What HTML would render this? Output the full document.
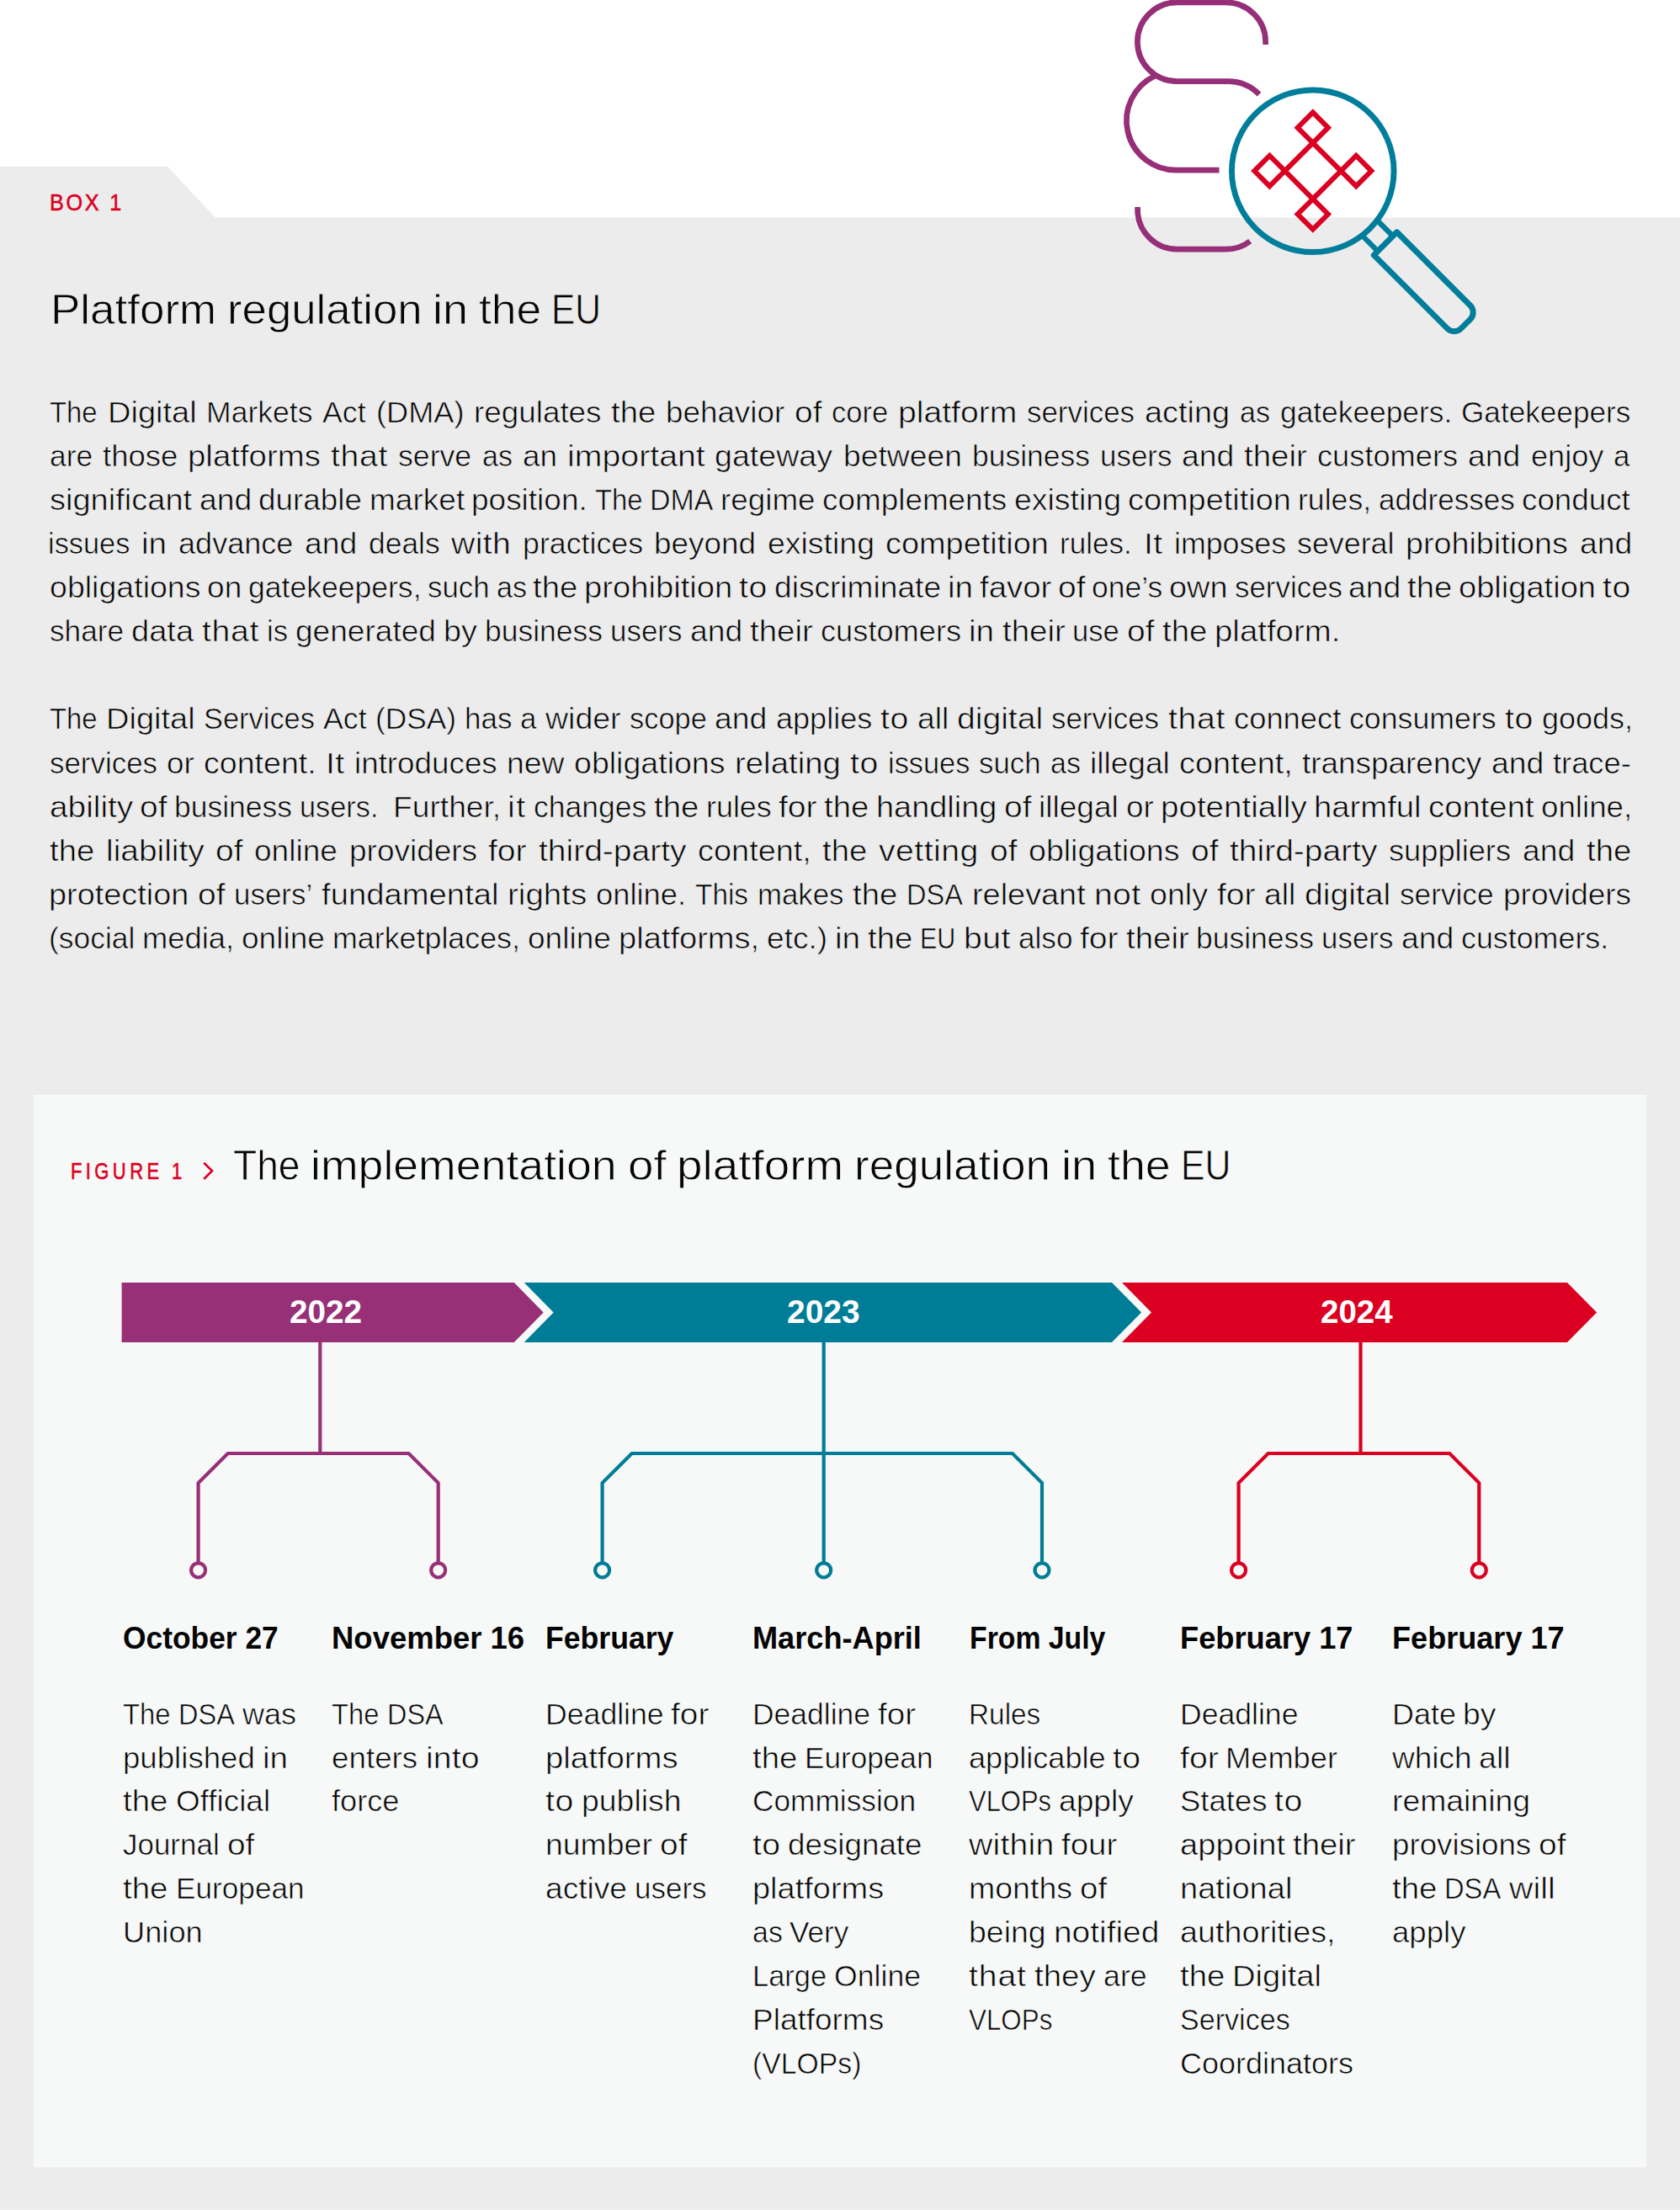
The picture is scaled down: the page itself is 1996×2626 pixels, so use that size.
<!DOCTYPE html>
<html lang="en">
<head>
<meta charset="utf-8">
<title>Platform regulation in the EU</title>
<style>
html,body{margin:0;padding:0;background:#ffffff;}
body{width:1996px;height:2626px;position:relative;overflow:hidden;font-family:"Liberation Sans",sans-serif;}
.bg{position:absolute;left:0;top:0;width:1996px;height:2626px;}
.t{position:absolute;white-space:pre;transform-origin:0 50%;margin:0;}
.pl{position:absolute;left:0;width:1996px;}
.w{position:absolute;top:0;white-space:pre;transform-origin:0 50%;}
</style>
</head>
<body>
<svg class="bg" width="1996" height="2626" viewBox="0 0 1996 2626">
  <!-- gray box with tab -->
  <path d="M0 198 H199.4 L255.7 258.6 H1996 V2626 H0 Z" fill="#ececec"/>
  <!-- figure panel -->
  <rect x="40" y="1301" width="1915.9" height="1274.4" fill="#f7f9f8"/>
  <rect x="0" y="2625.4" width="1996" height="0.6" fill="#f6f6f6"/>

  <!-- icon: paragraph sign -->
  <g fill="none" stroke="#962f78" stroke-width="6.7" stroke-linecap="butt">
    <path d="M1503.6 53.1 V49.7 A46.9 46.9 0 0 0 1456.7 2.8 H1398.3 A46.9 46.9 0 0 0 1398.3 96.6 H1459 A52 52 0 0 1 1496 112.1"/>
    <path d="M1448.5 202.1 H1398.5 A58.8 58.8 0 0 1 1372 90.2"/>
    <path d="M1351.6 246 V249.2 A46.9 46.9 0 0 0 1398.5 296.1 H1457 A46.9 46.9 0 0 0 1485.2 286.6"/>
  </g>
  <!-- icon: magnifier -->
  <g transform="translate(1559.75 203.25) rotate(45)" fill="none" stroke="#007d9b" stroke-width="6.9" stroke-linejoin="round">
    <circle r="96.3"/>
    <path d="M96 -12.7 H121.9 M96 12.7 H121.9" stroke-width="6.3"/>
    <path d="M121.9 -19.3 H245.3 A11.5 11.5 0 0 1 256.8 -7.8 V7.8 A11.5 11.5 0 0 1 245.3 19.3 H121.9 Z"/>
  </g>
  <!-- icon: red lattice -->
  <g transform="translate(1559.8 203.1)" fill="none" stroke="#db0021" stroke-width="6" stroke-linejoin="miter">
    <path d="M0 -33.3 L33.3 0 L0 33.3 L-33.3 0 Z"/>
    <path d="M0 -33.3 L18.1 -51.4 L0 -69.5 L-18.1 -51.4 Z"/>
    <path d="M0 33.3 L18.1 51.4 L0 69.5 L-18.1 51.4 Z"/>
    <path d="M33.3 0 L51.4 -18.1 L69.5 0 L51.4 18.1 Z"/>
    <path d="M-33.3 0 L-51.4 -18.1 L-69.5 0 L-51.4 18.1 Z"/>
  </g>

  <!-- figure chevron -->
  <path d="M242.2 1381.6 L252 1391.3 L242.2 1401" fill="none" stroke="#db0021" stroke-width="2.7"/>

  <!-- timeline bars -->
  <path d="M144.6 1524 H610.8 L645.7 1559.45 L610.8 1594.9 H144.6 Z" fill="#973077"/>
  <path d="M622.7 1524 H1321 L1356.1 1559.45 L1321 1594.9 H622.7 L657.6 1559.45 Z" fill="#007d96"/>
  <path d="M1333 1524 H1862 L1897.1 1559.45 L1862 1594.9 H1333 L1368 1559.45 Z" fill="#db0021"/>

  <!-- connectors -->
  <g fill="none" stroke-width="4.2" stroke-linejoin="miter">
    <g stroke="#973077">
      <path d="M380.3 1594 V1727"/>
      <path d="M235.6 1857 V1762.1 L270.7 1727 H485.6 L520.7 1762.1 V1857"/>
      <circle cx="235.6" cy="1865.8" r="8.5"/><circle cx="520.7" cy="1865.8" r="8.5"/>
    </g>
    <g stroke="#007d96">
      <path d="M978.7 1594 V1857"/>
      <path d="M715.6 1857 V1762.1 L750.7 1727 H1202.9 L1238 1762.1 V1857"/>
      <circle cx="715.6" cy="1865.8" r="8.5"/><circle cx="978.7" cy="1865.8" r="8.5"/><circle cx="1238" cy="1865.8" r="8.5"/>
    </g>
    <g stroke="#db0021">
      <path d="M1616.5 1594 V1727"/>
      <path d="M1471.6 1857 V1762.1 L1506.7 1727 H1722.2 L1757.3 1762.1 V1857"/>
      <circle cx="1471.6" cy="1865.8" r="8.5"/><circle cx="1757.3" cy="1865.8" r="8.5"/>
    </g>
  </g>
</svg>
<header>
<div class="t" style="left:58.9px;top:223.0px;font-size:28px;line-height:36px;color:#db0021;letter-spacing:3.03px;transform:scaleX(0.9);-webkit-text-stroke:0.6px #db0021;">BOX 1</div>
<div class="pl" style="top:334.5px;font-size:50.5px;line-height:66px;height:66px;color:#050505;-webkit-text-stroke:0.81px #ececec;"><span class="w" style="left:59.7px;transform:scaleX(1.0485)">Platform</span> <span class="w" style="left:269.5px;transform:scaleX(1.0447)">regulation</span> <span class="w" style="left:513.8px;transform:scaleX(1.0690)">in</span> <span class="w" style="left:568.5px;transform:scaleX(1.0579)">the</span> <span class="w" style="left:655.4px;transform:scaleX(0.8414)">EU</span></div>
</header>
<section class="para">
<div class="pl" style="top:466.7px;font-size:35px;line-height:46px;height:46px;color:#050505;-webkit-text-stroke:0.61px #ececec;"><span class="w" style="left:59.4px;transform:scaleX(0.9391)">The</span> <span class="w" style="left:127.7px;transform:scaleX(1.0869)">Digital</span> <span class="w" style="left:245.1px;transform:scaleX(1.0163)">Markets</span> <span class="w" style="left:383.3px;transform:scaleX(1.0222)">Act</span> <span class="w" style="left:446.8px;transform:scaleX(1.0340)">(DMA)</span> <span class="w" style="left:563.0px;transform:scaleX(1.0523)">regulates</span> <span class="w" style="left:726.2px;transform:scaleX(1.0942)">the</span> <span class="w" style="left:791.2px;transform:scaleX(1.0513)">behavior</span> <span class="w" style="left:944.1px;transform:scaleX(1.1141)">of</span> <span class="w" style="left:988.3px;transform:scaleX(0.9870)">core</span> <span class="w" style="left:1067.2px;transform:scaleX(1.1177)">platform</span> <span class="w" style="left:1220.2px;transform:scaleX(0.9974)">services</span> <span class="w" style="left:1360.0px;transform:scaleX(1.0823)">acting</span> <span class="w" style="left:1472.8px;transform:scaleX(0.9726)">as</span> <span class="w" style="left:1520.5px;transform:scaleX(1.0094)">gatekeepers.</span> <span class="w" style="left:1736.4px;transform:scaleX(1.0043)">Gatekeepers</span></div>
<div class="pl" style="top:518.8px;font-size:35px;line-height:46px;height:46px;color:#050505;-webkit-text-stroke:0.61px #ececec;"><span class="w" style="left:58.5px;transform:scaleX(1.0111)">are</span> <span class="w" style="left:121.7px;transform:scaleX(1.0442)">those</span> <span class="w" style="left:223.2px;transform:scaleX(1.0967)">platforms</span> <span class="w" style="left:393.1px;letter-spacing:0.61px;transform:scaleX(1.1200)">that</span> <span class="w" style="left:473.2px;transform:scaleX(1.0186)">serve</span> <span class="w" style="left:572.5px;transform:scaleX(0.9726)">as</span> <span class="w" style="left:620.5px;transform:scaleX(1.0545)">an</span> <span class="w" style="left:673.6px;letter-spacing:0.04px;transform:scaleX(1.1200)">important</span> <span class="w" style="left:849.4px;transform:scaleX(1.0747)">gateway</span> <span class="w" style="left:1001.5px;transform:scaleX(1.0649)">between</span> <span class="w" style="left:1154.5px;transform:scaleX(1.0138)">business</span> <span class="w" style="left:1306.6px;transform:scaleX(0.9978)">users</span> <span class="w" style="left:1404.0px;transform:scaleX(1.0656)">and</span> <span class="w" style="left:1478.3px;transform:scaleX(1.0989)">their</span> <span class="w" style="left:1565.2px;transform:scaleX(1.0352)">customers</span> <span class="w" style="left:1744.3px;transform:scaleX(1.0656)">and</span> <span class="w" style="left:1818.6px;transform:scaleX(1.0328)">enjoy</span> <span class="w" style="left:1917.1px;transform:scaleX(0.9977)">a</span></div>
<div class="pl" style="top:570.9px;font-size:35px;line-height:46px;height:46px;color:#050505;-webkit-text-stroke:0.61px #ececec;"><span class="w" style="left:59.1px;transform:scaleX(1.0865)">significant</span> <span class="w" style="left:236.7px;transform:scaleX(1.0656)">and</span> <span class="w" style="left:307.4px;transform:scaleX(1.0528)">durable</span> <span class="w" style="left:438.8px;transform:scaleX(1.0581)">market</span> <span class="w" style="left:560.4px;transform:scaleX(1.0565)">position.</span> <span class="w" style="left:706.7px;transform:scaleX(0.9391)">The</span> <span class="w" style="left:771.8px;transform:scaleX(0.9692)">DMA</span> <span class="w" style="left:855.6px;transform:scaleX(1.0522)">regime</span> <span class="w" style="left:976.7px;transform:scaleX(1.0537)">complements</span> <span class="w" style="left:1204.5px;transform:scaleX(1.0700)">existing</span> <span class="w" style="left:1339.9px;transform:scaleX(1.0830)">competition</span> <span class="w" style="left:1542.3px;transform:scaleX(1.0174)">rules,</span> <span class="w" style="left:1637.8px;transform:scaleX(1.0015)">addresses</span> <span class="w" style="left:1808.0px;transform:scaleX(1.0510)">conduct</span></div>
<div class="pl" style="top:623.0px;font-size:35px;line-height:46px;height:46px;color:#050505;-webkit-text-stroke:0.61px #ececec;"><span class="w" style="left:57.4px;transform:scaleX(0.9810)">issues</span> <span class="w" style="left:168.3px;transform:scaleX(1.1057)">in</span> <span class="w" style="left:211.9px;transform:scaleX(1.0308)">advance</span> <span class="w" style="left:361.8px;transform:scaleX(1.0656)">and</span> <span class="w" style="left:437.5px;transform:scaleX(1.0117)">deals</span> <span class="w" style="left:535.7px;letter-spacing:0.35px;transform:scaleX(1.1200)">with</span> <span class="w" style="left:620.5px;transform:scaleX(1.0217)">practices</span> <span class="w" style="left:777.1px;transform:scaleX(1.0530)">beyond</span> <span class="w" style="left:911.5px;transform:scaleX(1.0700)">existing</span> <span class="w" style="left:1052.0px;transform:scaleX(1.0830)">competition</span> <span class="w" style="left:1259.3px;transform:scaleX(1.0028)">rules.</span> <span class="w" style="left:1358.6px;letter-spacing:0.40px;transform:scaleX(1.1200)">It</span> <span class="w" style="left:1394.8px;transform:scaleX(1.0212)">imposes</span> <span class="w" style="left:1541.4px;transform:scaleX(1.0236)">several</span> <span class="w" style="left:1670.4px;transform:scaleX(1.0773)">prohibitions</span> <span class="w" style="left:1876.7px;transform:scaleX(1.0656)">and</span></div>
<div class="pl" style="top:675.1px;font-size:35px;line-height:46px;height:46px;color:#050505;-webkit-text-stroke:0.61px #ececec;"><span class="w" style="left:58.5px;transform:scaleX(1.0727)">obligations</span> <span class="w" style="left:245.8px;transform:scaleX(1.0600)">on</span> <span class="w" style="left:294.9px;transform:scaleX(1.0156)">gatekeepers,</span> <span class="w" style="left:508.2px;transform:scaleX(0.9938)">such</span> <span class="w" style="left:589.5px;transform:scaleX(0.9726)">as</span> <span class="w" style="left:633.3px;transform:scaleX(1.0942)">the</span> <span class="w" style="left:694.3px;transform:scaleX(1.0916)">prohibition</span> <span class="w" style="left:878.4px;letter-spacing:0.47px;transform:scaleX(1.1200)">to</span> <span class="w" style="left:920.0px;transform:scaleX(1.0606)">discriminate</span> <span class="w" style="left:1125.8px;transform:scaleX(1.1057)">in</span> <span class="w" style="left:1163.8px;transform:scaleX(1.0966)">favor</span> <span class="w" style="left:1256.9px;transform:scaleX(1.1141)">of</span> <span class="w" style="left:1297.2px;transform:scaleX(1.0140)">one’s</span> <span class="w" style="left:1389.3px;transform:scaleX(1.0817)">own</span> <span class="w" style="left:1466.5px;transform:scaleX(0.9974)">services</span> <span class="w" style="left:1602.4px;transform:scaleX(1.0656)">and</span> <span class="w" style="left:1672.4px;transform:scaleX(1.0942)">the</span> <span class="w" style="left:1733.4px;transform:scaleX(1.0877)">obligation</span> <span class="w" style="left:1904.2px;letter-spacing:0.47px;transform:scaleX(1.1200)">to</span></div>
<div class="pl" style="top:727.2px;font-size:35px;line-height:46px;height:46px;color:#050505;-webkit-text-stroke:0.61px #ececec;"><span class="w" style="left:59.1px;transform:scaleX(1.0071)">share</span> <span class="w" style="left:156.4px;transform:scaleX(1.0882)">data</span> <span class="w" style="left:239.6px;letter-spacing:0.61px;transform:scaleX(1.1200)">that</span> <span class="w" style="left:316.9px;transform:scaleX(0.9899)">is</span> <span class="w" style="left:351.0px;transform:scaleX(1.0589)">generated</span> <span class="w" style="left:527.1px;transform:scaleX(1.0777)">by</span> <span class="w" style="left:576.0px;transform:scaleX(1.0138)">business</span> <span class="w" style="left:725.2px;transform:scaleX(0.9978)">users</span> <span class="w" style="left:819.7px;transform:scaleX(1.0656)">and</span> <span class="w" style="left:891.0px;transform:scaleX(1.0989)">their</span> <span class="w" style="left:975.0px;transform:scaleX(1.0352)">customers</span> <span class="w" style="left:1151.2px;transform:scaleX(1.1057)">in</span> <span class="w" style="left:1190.5px;transform:scaleX(1.0989)">their</span> <span class="w" style="left:1274.4px;transform:scaleX(0.9883)">use</span> <span class="w" style="left:1339.3px;transform:scaleX(1.1141)">of</span> <span class="w" style="left:1380.9px;transform:scaleX(1.0942)">the</span> <span class="w" style="left:1443.3px;transform:scaleX(1.0971)">platform.</span></div>
</section>
<section class="para">
<div class="pl" style="top:831.4px;font-size:35px;line-height:46px;height:46px;color:#050505;-webkit-text-stroke:0.61px #ececec;"><span class="w" style="left:59.4px;transform:scaleX(0.9391)">The</span> <span class="w" style="left:126.1px;transform:scaleX(1.0869)">Digital</span> <span class="w" style="left:241.9px;transform:scaleX(0.9831)">Services</span> <span class="w" style="left:383.9px;transform:scaleX(1.0222)">Act</span> <span class="w" style="left:445.7px;transform:scaleX(1.0081)">(DSA)</span> <span class="w" style="left:551.8px;transform:scaleX(1.0003)">has</span> <span class="w" style="left:618.3px;transform:scaleX(0.9977)">a</span> <span class="w" style="left:647.8px;transform:scaleX(1.0710)">wider</span> <span class="w" style="left:747.5px;transform:scaleX(0.9826)">scope</span> <span class="w" style="left:849.4px;transform:scaleX(1.0656)">and</span> <span class="w" style="left:921.7px;transform:scaleX(1.0300)">applies</span> <span class="w" style="left:1046.0px;letter-spacing:0.47px;transform:scaleX(1.1200)">to</span> <span class="w" style="left:1089.8px;transform:scaleX(1.0626)">all</span> <span class="w" style="left:1137.1px;transform:scaleX(1.1173)">digital</span> <span class="w" style="left:1249.4px;transform:scaleX(0.9974)">services</span> <span class="w" style="left:1387.5px;letter-spacing:0.61px;transform:scaleX(1.1200)">that</span> <span class="w" style="left:1465.7px;transform:scaleX(1.0385)">connect</span> <span class="w" style="left:1603.1px;transform:scaleX(1.0202)">consumers</span> <span class="w" style="left:1787.8px;letter-spacing:0.47px;transform:scaleX(1.1200)">to</span> <span class="w" style="left:1831.6px;transform:scaleX(1.0266)">goods,</span></div>
<div class="pl" style="top:883.5px;font-size:35px;line-height:46px;height:46px;color:#050505;-webkit-text-stroke:0.61px #ececec;"><span class="w" style="left:59.1px;transform:scaleX(0.9974)">services</span> <span class="w" style="left:198.4px;transform:scaleX(1.0517)">or</span> <span class="w" style="left:242.3px;transform:scaleX(1.0732)">content.</span> <span class="w" style="left:387.2px;letter-spacing:0.40px;transform:scaleX(1.1200)">It</span> <span class="w" style="left:421.1px;transform:scaleX(1.0512)">introduces</span> <span class="w" style="left:602.1px;transform:scaleX(1.0660)">new</span> <span class="w" style="left:681.8px;transform:scaleX(1.0727)">obligations</span> <span class="w" style="left:872.6px;transform:scaleX(1.0965)">relating</span> <span class="w" style="left:1009.7px;letter-spacing:0.47px;transform:scaleX(1.1200)">to</span> <span class="w" style="left:1054.6px;transform:scaleX(0.9810)">issues</span> <span class="w" style="left:1163.2px;transform:scaleX(0.9938)">such</span> <span class="w" style="left:1247.9px;transform:scaleX(0.9726)">as</span> <span class="w" style="left:1295.1px;transform:scaleX(1.0594)">illegal</span> <span class="w" style="left:1401.2px;transform:scaleX(1.0832)">content,</span> <span class="w" style="left:1547.3px;transform:scaleX(1.0542)">transparency</span> <span class="w" style="left:1771.8px;transform:scaleX(1.0656)">and</span> <span class="w" style="left:1845.3px;transform:scaleX(1.0367)">trace-</span></div>
<div class="pl" style="top:935.6px;font-size:35px;line-height:46px;height:46px;color:#050505;-webkit-text-stroke:0.61px #ececec;"><span class="w" style="left:58.5px;transform:scaleX(1.1090)">ability</span> <span class="w" style="left:166.3px;transform:scaleX(1.1141)">of</span> <span class="w" style="left:207.4px;transform:scaleX(1.0138)">business</span> <span class="w" style="left:356.0px;transform:scaleX(0.9806)">users.</span> <span class="w" style="left:466.6px;transform:scaleX(1.0627)">Further,</span> <span class="w" style="left:603.3px;letter-spacing:1.34px;transform:scaleX(1.1200)">it</span> <span class="w" style="left:634.4px;transform:scaleX(1.0137)">changes</span> <span class="w" style="left:777.1px;transform:scaleX(1.0942)">the</span> <span class="w" style="left:838.9px;transform:scaleX(1.0251)">rules</span> <span class="w" style="left:925.2px;transform:scaleX(1.1169)">for</span> <span class="w" style="left:979.4px;transform:scaleX(1.0942)">the</span> <span class="w" style="left:1041.2px;transform:scaleX(1.0830)">handling</span> <span class="w" style="left:1193.1px;transform:scaleX(1.1141)">of</span> <span class="w" style="left:1234.1px;transform:scaleX(1.0594)">illegal</span> <span class="w" style="left:1337.5px;transform:scaleX(1.0517)">or</span> <span class="w" style="left:1378.8px;transform:scaleX(1.1021)">potentially</span> <span class="w" style="left:1561.1px;transform:scaleX(1.0928)">harmful</span> <span class="w" style="left:1697.1px;transform:scaleX(1.0939)">content</span> <span class="w" style="left:1831.3px;transform:scaleX(1.0493)">online,</span></div>
<div class="pl" style="top:987.7px;font-size:35px;line-height:46px;height:46px;color:#050505;-webkit-text-stroke:0.61px #ececec;"><span class="w" style="left:59.2px;transform:scaleX(1.0942)">the</span> <span class="w" style="left:126.0px;transform:scaleX(1.1103)">liability</span> <span class="w" style="left:256.2px;transform:scaleX(1.1141)">of</span> <span class="w" style="left:302.2px;transform:scaleX(1.0588)">online</span> <span class="w" style="left:414.7px;transform:scaleX(1.0565)">providers</span> <span class="w" style="left:580.3px;transform:scaleX(1.1169)">for</span> <span class="w" style="left:639.5px;transform:scaleX(1.1142)">third-party</span> <span class="w" style="left:828.5px;transform:scaleX(1.0832)">content,</span> <span class="w" style="left:977.0px;transform:scaleX(1.0942)">the</span> <span class="w" style="left:1043.7px;letter-spacing:0.43px;transform:scaleX(1.1200)">vetting</span> <span class="w" style="left:1176.1px;transform:scaleX(1.1141)">of</span> <span class="w" style="left:1222.2px;transform:scaleX(1.0727)">obligations</span> <span class="w" style="left:1415.2px;transform:scaleX(1.1141)">of</span> <span class="w" style="left:1461.3px;transform:scaleX(1.1142)">third-party</span> <span class="w" style="left:1650.4px;transform:scaleX(1.0356)">suppliers</span> <span class="w" style="left:1809.0px;transform:scaleX(1.0656)">and</span> <span class="w" style="left:1884.8px;transform:scaleX(1.0942)">the</span></div>
<div class="pl" style="top:1039.8px;font-size:35px;line-height:46px;height:46px;color:#050505;-webkit-text-stroke:0.61px #ececec;"><span class="w" style="left:57.6px;transform:scaleX(1.0820)">protection</span> <span class="w" style="left:234.6px;transform:scaleX(1.1141)">of</span> <span class="w" style="left:277.9px;transform:scaleX(0.9980)">users’</span> <span class="w" style="left:381.9px;transform:scaleX(1.0930)">fundamental</span> <span class="w" style="left:603.2px;transform:scaleX(1.1020)">rights</span> <span class="w" style="left:708.3px;transform:scaleX(1.0372)">online.</span> <span class="w" style="left:826.0px;transform:scaleX(0.9532)">This</span> <span class="w" style="left:899.8px;transform:scaleX(0.9944)">makes</span> <span class="w" style="left:1013.1px;transform:scaleX(1.0942)">the</span> <span class="w" style="left:1077.1px;transform:scaleX(0.9297)">DSA</span> <span class="w" style="left:1154.8px;transform:scaleX(1.0818)">relevant</span> <span class="w" style="left:1300.2px;letter-spacing:0.26px;transform:scaleX(1.1200)">not</span> <span class="w" style="left:1366.4px;transform:scaleX(1.0732)">only</span> <span class="w" style="left:1446.0px;transform:scaleX(1.1169)">for</span> <span class="w" style="left:1502.4px;transform:scaleX(1.0626)">all</span> <span class="w" style="left:1550.4px;transform:scaleX(1.1173)">digital</span> <span class="w" style="left:1663.3px;transform:scaleX(1.0058)">service</span> <span class="w" style="left:1785.6px;transform:scaleX(1.0565)">providers</span></div>
<div class="pl" style="top:1091.9px;font-size:35px;line-height:46px;height:46px;color:#050505;-webkit-text-stroke:0.61px #ececec;"><span class="w" style="left:57.5px;transform:scaleX(1.0122)">(social</span> <span class="w" style="left:168.8px;transform:scaleX(1.0391)">media,</span> <span class="w" style="left:287.0px;transform:scaleX(1.0588)">online</span> <span class="w" style="left:394.9px;transform:scaleX(1.0233)">marketplaces,</span> <span class="w" style="left:626.8px;transform:scaleX(1.0588)">online</span> <span class="w" style="left:734.7px;transform:scaleX(1.0879)">platforms,</span> <span class="w" style="left:910.8px;transform:scaleX(1.0610)">etc.)</span> <span class="w" style="left:992.0px;transform:scaleX(1.1057)">in</span> <span class="w" style="left:1031.2px;transform:scaleX(1.0942)">the</span> <span class="w" style="left:1093.4px;transform:scaleX(0.8703)">EU</span> <span class="w" style="left:1144.7px;letter-spacing:0.39px;transform:scaleX(1.1200)">but</span> <span class="w" style="left:1209.5px;transform:scaleX(1.0043)">also</span> <span class="w" style="left:1282.9px;transform:scaleX(1.1169)">for</span> <span class="w" style="left:1337.5px;transform:scaleX(1.0989)">their</span> <span class="w" style="left:1421.3px;transform:scaleX(1.0138)">business</span> <span class="w" style="left:1570.4px;transform:scaleX(0.9978)">users</span> <span class="w" style="left:1664.8px;transform:scaleX(1.0656)">and</span> <span class="w" style="left:1736.0px;transform:scaleX(1.0235)">customers.</span></div>
</section>
<section class="figure">
<div class="t" style="left:84.2px;top:1374.1px;font-size:27.5px;line-height:36px;color:#db0021;letter-spacing:5.50px;transform:scaleX(0.8);-webkit-text-stroke:0.6px #db0021;">FIGURE 1</div>
<div class="pl" style="top:1351.5px;font-size:50.5px;line-height:66px;height:66px;color:#050505;-webkit-text-stroke:0.81px #f7f9f8;"><span class="w" style="left:277.1px;transform:scaleX(0.9134)">The</span> <span class="w" style="left:369.3px;transform:scaleX(1.0617)">implementation</span> <span class="w" style="left:745.6px;transform:scaleX(1.0836)">of</span> <span class="w" style="left:804.0px;transform:scaleX(1.0871)">platform</span> <span class="w" style="left:1015.0px;transform:scaleX(1.0510)">regulation</span> <span class="w" style="left:1260.9px;transform:scaleX(1.0754)">in</span> <span class="w" style="left:1315.9px;transform:scaleX(1.0642)">the</span> <span class="w" style="left:1403.3px;transform:scaleX(0.8465)">EU</span></div>
<div class="t" style="left:344.0px;top:1534.9px;font-size:38px;line-height:49px;color:#ffffff;font-weight:700;transform:scaleX(1.0183);">2022</div>
<div class="t" style="left:935.0px;top:1534.9px;font-size:38px;line-height:49px;color:#ffffff;font-weight:700;transform:scaleX(1.0244);">2023</div>
<div class="t" style="left:1568.5px;top:1534.9px;font-size:38px;line-height:49px;color:#ffffff;font-weight:700;transform:scaleX(1.0119);">2024</div>
<article>
<div class="t" style="left:146.4px;top:1921.9px;font-size:37.5px;line-height:49px;color:#050505;font-weight:700;transform:scaleX(0.9430);">October 27</div>
<div class="pl" style="top:2013.6px;font-size:35px;line-height:46px;height:46px;color:#050505;-webkit-text-stroke:0.61px #f7f9f8;"><span class="w" style="left:146.3px;transform:scaleX(0.9392)">The</span> <span class="w" style="left:212.1px;transform:scaleX(0.9298)">DSA</span> <span class="w" style="left:288.1px;transform:scaleX(1.0306)">was</span></div>
<div class="pl" style="top:2065.5px;font-size:35px;line-height:46px;height:46px;color:#050505;-webkit-text-stroke:0.61px #f7f9f8;"><span class="w" style="left:146.4px;transform:scaleX(1.0466)">published</span> <span class="w" style="left:312.2px;transform:scaleX(1.1041)">in</span></div>
<div class="pl" style="top:2117.4px;font-size:35px;line-height:46px;height:46px;color:#050505;-webkit-text-stroke:0.61px #f7f9f8;"><span class="w" style="left:146.3px;transform:scaleX(1.0985)">the</span> <span class="w" style="left:208.9px;transform:scaleX(1.0541)">Official</span></div>
<div class="pl" style="top:2169.3px;font-size:35px;line-height:46px;height:46px;color:#050505;-webkit-text-stroke:0.61px #f7f9f8;"><span class="w" style="left:146.4px;transform:scaleX(0.9988)">Journal</span> <span class="w" style="left:270.0px;transform:scaleX(1.1095)">of</span></div>
<div class="pl" style="top:2221.2px;font-size:35px;line-height:46px;height:46px;color:#050505;-webkit-text-stroke:0.61px #f7f9f8;"><span class="w" style="left:146.3px;transform:scaleX(1.0993)">the</span> <span class="w" style="left:208.9px;transform:scaleX(1.0053)">European</span></div>
<div class="pl" style="top:2273.1px;font-size:35px;line-height:46px;height:46px;color:#050505;-webkit-text-stroke:0.61px #f7f9f8;"><span class="w" style="left:146.4px;transform:scaleX(1.0356)">Union</span></div>
</article>
<article>
<div class="t" style="left:394.1px;top:1921.9px;font-size:37.5px;line-height:49px;color:#050505;font-weight:700;transform:scaleX(0.9728);">November 16</div>
<div class="pl" style="top:2013.6px;font-size:35px;line-height:46px;height:46px;color:#050505;-webkit-text-stroke:0.61px #f7f9f8;"><span class="w" style="left:394.4px;transform:scaleX(0.9348)">The</span> <span class="w" style="left:459.8px;transform:scaleX(0.9254)">DSA</span></div>
<div class="pl" style="top:2065.5px;font-size:35px;line-height:46px;height:46px;color:#050505;-webkit-text-stroke:0.61px #f7f9f8;"><span class="w" style="left:394.4px;transform:scaleX(1.0512)">enters</span> <span class="w" style="left:505.6px;letter-spacing:0.10px;transform:scaleX(1.1200)">into</span></div>
<div class="pl" style="top:2117.4px;font-size:35px;line-height:46px;height:46px;color:#050505;-webkit-text-stroke:0.61px #f7f9f8;"><span class="w" style="left:394.3px;transform:scaleX(1.0339)">force</span></div>
</article>
<article>
<div class="t" style="left:648.1px;top:1921.9px;font-size:37.5px;line-height:49px;color:#050505;font-weight:700;transform:scaleX(0.9494);">February</div>
<div class="pl" style="top:2013.6px;font-size:35px;line-height:46px;height:46px;color:#050505;-webkit-text-stroke:0.61px #f7f9f8;"><span class="w" style="left:647.6px;transform:scaleX(1.0183)">Deadline</span> <span class="w" style="left:797.3px;transform:scaleX(1.1098)">for</span></div>
<div class="pl" style="top:2065.5px;font-size:35px;line-height:46px;height:46px;color:#050505;-webkit-text-stroke:0.61px #f7f9f8;"><span class="w" style="left:647.6px;transform:scaleX(1.0949)">platforms</span></div>
<div class="pl" style="top:2117.4px;font-size:35px;line-height:46px;height:46px;color:#050505;-webkit-text-stroke:0.61px #f7f9f8;"><span class="w" style="left:647.6px;letter-spacing:0.64px;transform:scaleX(1.1200)">to</span> <span class="w" style="left:690.9px;transform:scaleX(1.0687)">publish</span></div>
<div class="pl" style="top:2169.3px;font-size:35px;line-height:46px;height:46px;color:#050505;-webkit-text-stroke:0.61px #f7f9f8;"><span class="w" style="left:647.6px;transform:scaleX(1.0689)">number</span> <span class="w" style="left:783.5px;transform:scaleX(1.1111)">of</span></div>
<div class="pl" style="top:2221.2px;font-size:35px;line-height:46px;height:46px;color:#050505;-webkit-text-stroke:0.61px #f7f9f8;"><span class="w" style="left:647.6px;transform:scaleX(1.0604)">active</span> <span class="w" style="left:753.6px;transform:scaleX(0.9997)">users</span></div>
</article>
<article>
<div class="t" style="left:894.1px;top:1921.9px;font-size:37.5px;line-height:49px;color:#050505;font-weight:700;transform:scaleX(0.9642);">March-April</div>
<div class="pl" style="top:2013.6px;font-size:35px;line-height:46px;height:46px;color:#050505;-webkit-text-stroke:0.61px #f7f9f8;"><span class="w" style="left:893.5px;transform:scaleX(1.0135)">Deadline</span> <span class="w" style="left:1042.5px;transform:scaleX(1.1045)">for</span></div>
<div class="pl" style="top:2065.5px;font-size:35px;line-height:46px;height:46px;color:#050505;-webkit-text-stroke:0.61px #f7f9f8;"><span class="w" style="left:893.5px;transform:scaleX(1.0985)">the</span> <span class="w" style="left:956.1px;transform:scaleX(1.0045)">European</span></div>
<div class="pl" style="top:2117.4px;font-size:35px;line-height:46px;height:46px;color:#050505;-webkit-text-stroke:0.61px #f7f9f8;"><span class="w" style="left:893.5px;transform:scaleX(1.0076)">Commission</span></div>
<div class="pl" style="top:2169.3px;font-size:35px;line-height:46px;height:46px;color:#050505;-webkit-text-stroke:0.61px #f7f9f8;"><span class="w" style="left:893.5px;letter-spacing:0.41px;transform:scaleX(1.1200)">to</span> <span class="w" style="left:936.1px;transform:scaleX(1.0510)">designate</span></div>
<div class="pl" style="top:2221.2px;font-size:35px;line-height:46px;height:46px;color:#050505;-webkit-text-stroke:0.61px #f7f9f8;"><span class="w" style="left:893.5px;transform:scaleX(1.0849)">platforms</span></div>
<div class="pl" style="top:2273.1px;font-size:35px;line-height:46px;height:46px;color:#050505;-webkit-text-stroke:0.61px #f7f9f8;"><span class="w" style="left:893.5px;transform:scaleX(0.9702)">as</span> <span class="w" style="left:938.4px;transform:scaleX(1.0031)">Very</span></div>
<div class="pl" style="top:2325.0px;font-size:35px;line-height:46px;height:46px;color:#050505;-webkit-text-stroke:0.61px #f7f9f8;"><span class="w" style="left:893.5px;transform:scaleX(0.9842)">Large</span> <span class="w" style="left:990.6px;transform:scaleX(1.0187)">Online</span></div>
<div class="pl" style="top:2376.9px;font-size:35px;line-height:46px;height:46px;color:#050505;-webkit-text-stroke:0.61px #f7f9f8;"><span class="w" style="left:893.5px;transform:scaleX(1.0565)">Platforms</span></div>
<div class="pl" style="top:2428.8px;font-size:35px;line-height:46px;height:46px;color:#050505;-webkit-text-stroke:0.61px #f7f9f8;"><span class="w" style="left:893.5px;transform:scaleX(0.9641)">(VLOPs)</span></div>
</article>
<article>
<div class="t" style="left:1151.5px;top:1921.9px;font-size:37.5px;line-height:49px;color:#050505;font-weight:700;transform:scaleX(0.9006);">From July</div>
<div class="pl" style="top:2013.6px;font-size:35px;line-height:46px;height:46px;color:#050505;-webkit-text-stroke:0.61px #f7f9f8;"><span class="w" style="left:1150.9px;transform:scaleX(0.9531)">Rules</span></div>
<div class="pl" style="top:2065.5px;font-size:35px;line-height:46px;height:46px;color:#050505;-webkit-text-stroke:0.61px #f7f9f8;"><span class="w" style="left:1150.8px;transform:scaleX(1.0313)">applicable</span> <span class="w" style="left:1322.4px;letter-spacing:0.43px;transform:scaleX(1.1200)">to</span></div>
<div class="pl" style="top:2117.4px;font-size:35px;line-height:46px;height:46px;color:#050505;-webkit-text-stroke:0.61px #f7f9f8;"><span class="w" style="left:1150.8px;transform:scaleX(0.8844)">VLOPs</span> <span class="w" style="left:1257.9px;transform:scaleX(1.0623)">apply</span></div>
<div class="pl" style="top:2169.3px;font-size:35px;line-height:46px;height:46px;color:#050505;-webkit-text-stroke:0.61px #f7f9f8;"><span class="w" style="left:1150.8px;letter-spacing:0.19px;transform:scaleX(1.1200)">within</span> <span class="w" style="left:1261.4px;transform:scaleX(1.0991)">four</span></div>
<div class="pl" style="top:2221.2px;font-size:35px;line-height:46px;height:46px;color:#050505;-webkit-text-stroke:0.61px #f7f9f8;"><span class="w" style="left:1150.8px;transform:scaleX(1.0718)">months</span> <span class="w" style="left:1282.8px;transform:scaleX(1.1005)">of</span></div>
<div class="pl" style="top:2273.1px;font-size:35px;line-height:46px;height:46px;color:#050505;-webkit-text-stroke:0.61px #f7f9f8;"><span class="w" style="left:1150.8px;transform:scaleX(1.0701)">being</span> <span class="w" style="left:1251.5px;transform:scaleX(1.1105)">notified</span></div>
<div class="pl" style="top:2325.0px;font-size:35px;line-height:46px;height:46px;color:#050505;-webkit-text-stroke:0.61px #f7f9f8;"><span class="w" style="left:1150.8px;letter-spacing:0.77px;transform:scaleX(1.1200)">that</span> <span class="w" style="left:1228.8px;transform:scaleX(1.0995)">they</span> <span class="w" style="left:1310.7px;transform:scaleX(1.0217)">are</span></div>
<div class="pl" style="top:2376.9px;font-size:35px;line-height:46px;height:46px;color:#050505;-webkit-text-stroke:0.61px #f7f9f8;"><span class="w" style="left:1150.8px;transform:scaleX(0.8956)">VLOPs</span></div>
</article>
<article>
<div class="t" style="left:1402.1px;top:1921.9px;font-size:37.5px;line-height:49px;color:#050505;font-weight:700;transform:scaleX(0.9665);">February 17</div>
<div class="pl" style="top:2013.6px;font-size:35px;line-height:46px;height:46px;color:#050505;-webkit-text-stroke:0.61px #f7f9f8;"><span class="w" style="left:1401.5px;transform:scaleX(1.0166)">Deadline</span></div>
<div class="pl" style="top:2065.5px;font-size:35px;line-height:46px;height:46px;color:#050505;-webkit-text-stroke:0.61px #f7f9f8;"><span class="w" style="left:1401.5px;letter-spacing:0.02px;transform:scaleX(1.1200)">for</span> <span class="w" style="left:1456.4px;transform:scaleX(1.0365)">Member</span></div>
<div class="pl" style="top:2117.4px;font-size:35px;line-height:46px;height:46px;color:#050505;-webkit-text-stroke:0.61px #f7f9f8;"><span class="w" style="left:1401.5px;transform:scaleX(1.0429)">States</span> <span class="w" style="left:1514.1px;letter-spacing:0.50px;transform:scaleX(1.1200)">to</span></div>
<div class="pl" style="top:2169.3px;font-size:35px;line-height:46px;height:46px;color:#050505;-webkit-text-stroke:0.61px #f7f9f8;"><span class="w" style="left:1401.5px;transform:scaleX(1.0903)">appoint</span> <span class="w" style="left:1535.7px;transform:scaleX(1.0957)">their</span></div>
<div class="pl" style="top:2221.2px;font-size:35px;line-height:46px;height:46px;color:#050505;-webkit-text-stroke:0.61px #f7f9f8;"><span class="w" style="left:1401.5px;transform:scaleX(1.0879)">national</span></div>
<div class="pl" style="top:2273.1px;font-size:35px;line-height:46px;height:46px;color:#050505;-webkit-text-stroke:0.61px #f7f9f8;"><span class="w" style="left:1401.5px;transform:scaleX(1.0779)">authorities,</span></div>
<div class="pl" style="top:2325.0px;font-size:35px;line-height:46px;height:46px;color:#050505;-webkit-text-stroke:0.61px #f7f9f8;"><span class="w" style="left:1401.5px;transform:scaleX(1.0972)">the</span> <span class="w" style="left:1464.0px;transform:scaleX(1.0899)">Digital</span></div>
<div class="pl" style="top:2376.9px;font-size:35px;line-height:46px;height:46px;color:#050505;-webkit-text-stroke:0.61px #f7f9f8;"><span class="w" style="left:1401.5px;transform:scaleX(0.9736)">Services</span></div>
<div class="pl" style="top:2428.8px;font-size:35px;line-height:46px;height:46px;color:#050505;-webkit-text-stroke:0.61px #f7f9f8;"><span class="w" style="left:1401.5px;transform:scaleX(1.0280)">Coordinators</span></div>
</article>
<article>
<div class="t" style="left:1654.4px;top:1921.9px;font-size:37.5px;line-height:49px;color:#050505;font-weight:700;transform:scaleX(0.9627);">February 17</div>
<div class="pl" style="top:2013.6px;font-size:35px;line-height:46px;height:46px;color:#050505;-webkit-text-stroke:0.61px #f7f9f8;"><span class="w" style="left:1653.5px;transform:scaleX(1.0270)">Date</span> <span class="w" style="left:1738.4px;transform:scaleX(1.0644)">by</span></div>
<div class="pl" style="top:2065.5px;font-size:35px;line-height:46px;height:46px;color:#050505;-webkit-text-stroke:0.61px #f7f9f8;"><span class="w" style="left:1653.5px;transform:scaleX(1.0586)">which</span> <span class="w" style="left:1757.4px;transform:scaleX(1.0765)">all</span></div>
<div class="pl" style="top:2117.4px;font-size:35px;line-height:46px;height:46px;color:#050505;-webkit-text-stroke:0.61px #f7f9f8;"><span class="w" style="left:1653.5px;transform:scaleX(1.0669)">remaining</span></div>
<div class="pl" style="top:2169.3px;font-size:35px;line-height:46px;height:46px;color:#050505;-webkit-text-stroke:0.61px #f7f9f8;"><span class="w" style="left:1653.5px;transform:scaleX(1.0484)">provisions</span> <span class="w" style="left:1827.8px;transform:scaleX(1.1124)">of</span></div>
<div class="pl" style="top:2221.2px;font-size:35px;line-height:46px;height:46px;color:#050505;-webkit-text-stroke:0.61px #f7f9f8;"><span class="w" style="left:1653.5px;transform:scaleX(1.0995)">the</span> <span class="w" style="left:1716.1px;transform:scaleX(0.9342)">DSA</span> <span class="w" style="left:1792.5px;letter-spacing:0.06px;transform:scaleX(1.1200)">will</span></div>
<div class="pl" style="top:2273.1px;font-size:35px;line-height:46px;height:46px;color:#050505;-webkit-text-stroke:0.61px #f7f9f8;"><span class="w" style="left:1653.5px;transform:scaleX(1.0462)">apply</span></div>
</article>
</section>
</body>
</html>
